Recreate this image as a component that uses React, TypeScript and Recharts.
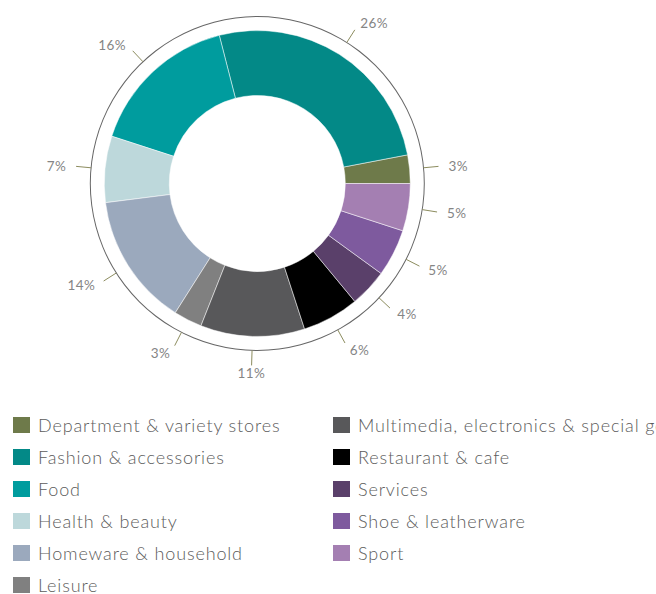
import React from 'react';
import { PieChart, Pie, Cell, Legend } from 'recharts';

const categories = [
  'Department & variety stores',
  'Fashion & accessories',
  'Food',
  'Health & beauty',
  'Homeware & household',
  'Leisure',
  'Multimedia, electronics & special goods',
  'Restaurant & cafe',
  'Services',
  'Shoe & leatherware',
  'Sport',
];
const shares = [3, 26, 16, 7, 14, 3, 11, 6, 4, 5, 5];
const colors = [
  '#6e7a4a',
  '#038987',
  '#009c9e',
  '#bdd8db',
  '#9ba9bd',
  '#808080',
  '#58585a',
  '#000000',
  '#5a406a',
  '#7e5a9e',
  '#a47fb2',
];

const data = categories.map((name, i) => ({ name, value: shares[i] }));
const ring = [{ name: 'ring', value: 1 }];

const CX = 257.3;
const CY = 183.5;
const RADIAN = Math.PI / 180;
const FONT = 'Lato, "Open Sans", sans-serif';

const renderLabel = (props: any) => {
  const { midAngle, value, index } = props;
  const cx = typeof props.cx === 'number' ? props.cx : CX;
  const cy = typeof props.cy === 'number' ? props.cy : CY;
  const cos = Math.cos(-midAngle * RADIAN);
  const sin = Math.sin(-midAngle * RADIAN);
  const x1 = cx + 167 * cos;
  const y1 = cy + 167 * sin;
  const x2 = cx + 182 * cos;
  const y2 = cy + 182 * sin;
  const tx = cx + 188 * cos + cos * 4;
  const ty = cy + 188 * sin + sin * 2;
  const anchor = cos > 0.3 ? 'start' : cos < -0.3 ? 'end' : 'middle';
  return (
    <g key={`lbl-${index}`}>
      <line x1={x1} y1={y1} x2={x2} y2={y2} stroke="#8c8c5e" strokeWidth={1} />
      <text
        x={tx}
        y={ty}
        textAnchor={anchor}
        dominantBaseline="central"
        fill="#858585"
        fontSize={13.5}
        letterSpacing={0.4}
        fontFamily={FONT}
      >
        {`${value}%`}
      </text>
    </g>
  );
};

const LegendBlock = () => {
  const cols = [categories.slice(0, 6), categories.slice(6)];
  return (
    <div style={{ position: 'relative', width: 656, height: 185, fontFamily: FONT }}>
      {cols.map((col, c) => (
        <div key={c} style={{ position: 'absolute', left: c === 0 ? 13 : 333, top: 0 }}>
          {col.map((name, j) => {
            const i = c * 6 + j;
            return (
              <div
                key={name}
                style={{ display: 'flex', alignItems: 'center', height: 32, whiteSpace: 'nowrap' }}
              >
                <span
                  style={{ display: 'inline-block', width: 17, height: 16, background: colors[i], marginRight: 8 }}
                />
                <span style={{ fontSize: 18, fontWeight: 300, letterSpacing: 0.85, color: '#5c5c5c' }}>{name}</span>
              </div>
            );
          })}
        </div>
      ))}
    </div>
  );
};

export default function App() {
  return (
    <div
      style={{
        position: 'absolute',
        left: 0,
        top: 0,
        width: 656,
        height: 594,
        overflow: 'hidden',
        background: '#fff',
      }}
    >
      <PieChart width={656} height={594} margin={{ top: 0, right: 0, bottom: 0, left: 0 }}>
        <Pie
          data={ring}
          dataKey="value"
          cx={CX}
          cy={CY}
          innerRadius={166.5}
          outerRadius={167.5}
          startAngle={0}
          endAngle={360}
          fill="#666666"
          stroke="none"
          legendType="none"
          isAnimationActive={false}
        />
        <Pie
          data={data}
          dataKey="value"
          nameKey="name"
          cx={CX}
          cy={CY}
          innerRadius={88}
          outerRadius={153}
          startAngle={0}
          endAngle={360}
          stroke="#ffffff"
          strokeWidth={0.5}
          label={renderLabel}
          labelLine={false}
          isAnimationActive={false}
        >
          {data.map((d, i) => (
            <Cell key={d.name} fill={colors[i]} />
          ))}
        </Pie>
        <Legend
          content={() => <LegendBlock />}
          wrapperStyle={{ position: 'absolute', left: 0, top: 409, width: 656, height: 185 }}
        />
      </PieChart>
    </div>
  );
}
